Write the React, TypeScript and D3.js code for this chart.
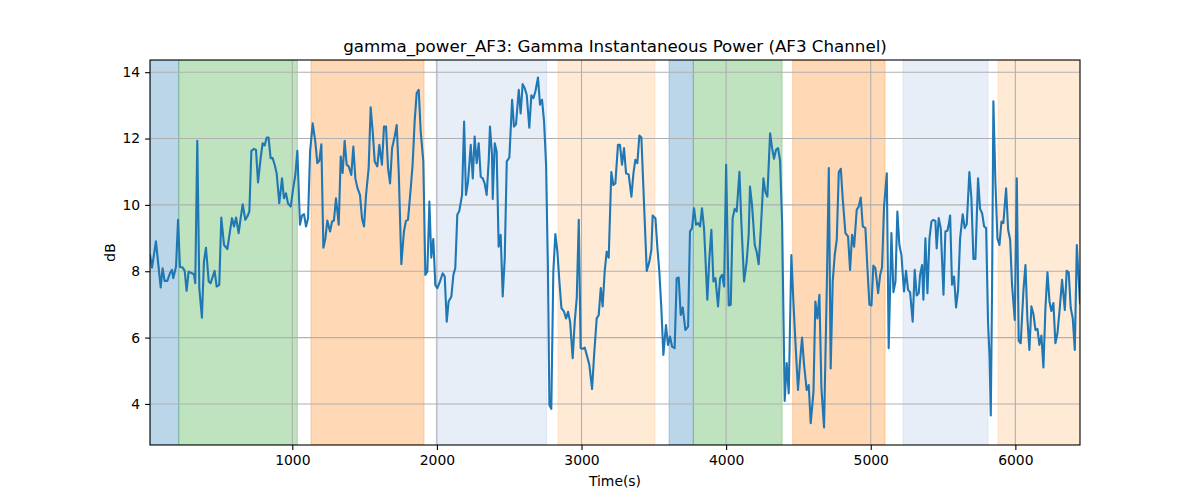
import * as d3 from "d3";
import React, { useRef, useEffect } from "react";

// [time (s), gamma power (dB)]
const gammaSamples: [number, number][] = [
  [16, 8.49], [30, 8.11], [57, 8.9], [90, 7.51], [103, 8.09], [117, 7.71], [136, 7.71], [154, 7.94], [168, 8.04], [177, 7.79],
  [196, 8.14], [210, 9.55], [223, 8.13], [242, 8.11], [256, 8.01], [269, 7.41], [283, 7.99], [306, 7.94], [320, 7.91], [329, 7.64],
  [343, 11.93], [357, 7.49], [375, 6.6], [389, 8.29], [403, 8.71], [422, 7.69], [435, 7.64], [454, 7.89], [463, 8.01], [477, 7.54],
  [495, 7.59], [509, 9.62], [528, 8.79], [551, 8.67], [569, 9.2], [583, 9.6], [597, 9.35], [611, 9.62], [629, 9.15], [643, 9.6],
  [657, 10.02], [675, 9.55], [689, 9.65], [703, 9.8], [717, 11.63], [735, 11.69], [749, 11.66], [763, 10.68], [781, 11.41], [795, 11.86],
  [809, 11.79], [823, 12.03], [836, 12.03], [850, 11.41], [864, 11.41], [878, 11.21], [892, 10.95], [910, 10.05], [929, 10.8], [942, 10.2],
  [956, 10.35], [970, 10.05], [989, 9.95], [1007, 10.52], [1021, 10.9], [1035, 11.63],
  [1053, 9.4], [1067, 9.68], [1081, 9.72], [1095, 9.35], [1109, 9.6], [1123, 11.61], [1141, 12.46], [1159, 11.91], [1173, 11.26], [1187, 11.33],
  [1201, 11.83], [1215, 8.71], [1229, 8.99], [1242, 9.53], [1261, 9.2], [1275, 9.5], [1288, 9.53], [1302, 10.2], [1312, 9.8], [1321, 9.4],
  [1335, 11.46], [1348, 10.96], [1362, 11.93], [1376, 11.21], [1390, 11.16], [1408, 10.9], [1422, 11.76], [1436, 10.8], [1450, 10.52], [1468, 10.3],
  [1482, 9.6], [1496, 9.35], [1510, 10.3], [1528, 11.11], [1542, 12.94], [1556, 12.21], [1570, 11.31], [1588, 11.16], [1602, 11.81], [1620, 11.21],
  [1634, 12.36], [1648, 12.36], [1662, 11.11], [1676, 10.65], [1690, 11.71], [1708, 12.06], [1722, 12.41], [1736, 11.0], [1754, 8.21], [1772, 9.2],
  [1786, 9.52], [1800, 9.55], [1819, 10.5], [1832, 11.21], [1846, 12.51], [1860, 13.37], [1874, 13.47], [1888, 12.21], [1906, 11.31], [1920, 7.89],
  [1934, 7.99], [1948, 10.1], [1961, 8.41], [1975, 8.97], [1989, 7.59], [2003, 7.49], [2021, 7.69], [2040, 7.94], [2054, 7.84], [2068, 6.48],
  [2081, 7.09], [2100, 7.24], [2114, 7.89], [2127, 8.09], [2141, 9.7], [2155, 9.82],
  [2174, 10.3], [2188, 12.51], [2201, 10.3], [2215, 10.7], [2234, 11.81], [2248, 10.8], [2261, 12.06], [2275, 11.26], [2289, 11.86], [2303, 10.85],
  [2317, 10.8], [2330, 10.65], [2344, 10.3], [2358, 11.31], [2367, 12.36], [2381, 11.51], [2386, 10.18], [2400, 11.86], [2413, 11.61], [2427, 8.74],
  [2441, 9.1], [2455, 7.24], [2469, 8.39], [2483, 11.31], [2501, 11.43], [2520, 13.17], [2533, 12.36], [2547, 12.43], [2566, 13.47], [2579, 12.76],
  [2593, 13.64], [2607, 13.52], [2621, 13.32], [2639, 12.33], [2653, 13.3], [2667, 13.22], [2681, 13.42], [2699, 13.84], [2713, 13.02], [2727, 13.17],
  [2741, 12.51], [2755, 11.21], [2768, 7.99], [2778, 3.97], [2791, 3.85], [2805, 7.99], [2819, 9.12], [2833, 8.59], [2847, 7.69], [2861, 6.89],
  [2879, 6.78], [2893, 6.58], [2907, 6.78], [2921, 6.48], [2939, 5.38], [2953, 6.48], [2967, 7.19], [2981, 9.55], [2994, 5.68], [3008, 5.66],
  [3022, 5.7], [3036, 5.48], [3054, 5.18], [3073, 4.45], [3087, 5.48], [3105, 6.58], [3119, 6.68], [3133, 7.49], [3146, 6.94], [3160, 7.99],
  [3174, 8.59], [3188, 8.41], [3206, 10.99], [3220, 10.6], [3234, 10.65], [3252, 11.81],
  [3266, 11.81], [3280, 11.21], [3294, 11.71], [3308, 10.95], [3326, 10.92], [3345, 10.25], [3359, 10.95], [3372, 11.36], [3386, 11.26], [3400, 12.09],
  [3414, 12.03], [3428, 10.5], [3451, 8.01], [3469, 8.29], [3483, 8.64], [3492, 9.68], [3511, 9.6], [3525, 8.69], [3538, 7.99], [3552, 6.89],
  [3566, 5.48], [3584, 6.38], [3598, 5.78], [3612, 6.03], [3626, 5.73], [3644, 5.68], [3658, 7.79], [3672, 7.81], [3686, 6.68], [3700, 6.91],
  [3718, 6.23], [3737, 6.33], [3750, 9.2], [3764, 9.3], [3778, 9.9], [3792, 9.4], [3806, 9.45], [3820, 9.35], [3833, 9.9], [3847, 9.3],
  [3856, 8.49], [3870, 7.14], [3884, 8.39], [3898, 9.25], [3912, 7.69], [3926, 7.79], [3944, 6.94], [3958, 7.79], [3972, 7.89], [3986, 7.54],
  [4000, 11.21], [4018, 6.97], [4032, 6.99], [4045, 9.6], [4059, 9.88], [4073, 9.8], [4092, 11.0], [4105, 9.5], [4124, 7.69], [4142, 8.29],
  [4156, 9.1], [4165, 10.55], [4179, 10.0], [4198, 8.79], [4211, 8.59], [4225, 8.21], [4239, 9.2], [4258, 10.8], [4271, 10.4], [4285, 10.25],
  [4304, 12.16], [4318, 11.71], [4331, 11.39], [4345, 11.66], [4359, 11.71], [4373, 11.33], [4387, 9.5],
  [4405, 4.09], [4419, 5.23], [4433, 4.32], [4451, 8.49], [4465, 7.09], [4479, 5.88], [4497, 4.42], [4511, 5.28], [4525, 6.0], [4539, 5.18],
  [4557, 4.42], [4571, 4.57], [4585, 3.42], [4604, 4.37], [4617, 7.09], [4631, 6.58], [4645, 7.29], [4659, 4.47], [4677, 3.29], [4696, 7.49],
  [4710, 11.11], [4723, 5.07], [4737, 7.69], [4751, 8.49], [4765, 8.95], [4779, 10.99], [4793, 11.09], [4806, 10.2], [4825, 9.15], [4843, 9.05],
  [4857, 8.04], [4871, 9.1], [4885, 8.74], [4903, 9.85], [4917, 9.95], [4931, 10.22], [4945, 9.35], [4963, 9.3], [4977, 8.09], [4991, 6.99],
  [5005, 6.97], [5018, 8.17], [5032, 8.09], [5051, 7.34], [5065, 7.89], [5078, 8.11], [5092, 9.95], [5111, 10.95], [5124, 5.68], [5143, 9.15],
  [5157, 7.37], [5171, 7.69], [5184, 9.8], [5198, 8.79], [5212, 8.49], [5230, 7.39], [5244, 8.01], [5258, 7.44], [5272, 7.37], [5290, 6.48],
  [5304, 8.04], [5318, 7.27], [5332, 7.34],
  [5341, 7.89], [5355, 8.19], [5364, 7.14], [5378, 8.99], [5392, 7.34], [5406, 8.99], [5420, 9.5], [5433, 9.55], [5447, 9.52], [5456, 8.69],
  [5470, 9.6], [5484, 9.3], [5503, 7.29], [5516, 9.2], [5530, 9.22], [5539, 9.4], [5549, 9.68], [5562, 7.59], [5576, 7.84], [5590, 6.91],
  [5604, 7.44], [5618, 8.99], [5636, 9.72], [5650, 9.3], [5664, 9.42], [5682, 10.99], [5696, 10.2], [5710, 8.37], [5724, 8.37], [5742, 10.8],
  [5756, 9.88], [5770, 9.75], [5784, 9.35], [5798, 9.3], [5811, 6.48], [5821, 5.48], [5830, 3.65], [5839, 7.49], [5848, 13.12], [5862, 10.7],
  [5876, 8.99], [5890, 8.79], [5904, 9.5], [5917, 9.45], [5936, 10.5], [5950, 9.25], [5964, 8.95], [5977, 7.59], [5996, 6.53], [6010, 10.8],
  [6023, 5.9], [6037, 5.83], [6056, 7.44], [6070, 8.19], [6083, 6.58], [6097, 5.63], [6111, 6.94], [6125, 6.71], [6139, 6.23], [6153, 6.26],
  [6166, 5.78], [6180, 6.06], [6194, 5.1], [6208, 6.89], [6222, 7.97], [6236, 7.09], [6249, 6.8], [6263, 7.04], [6277, 5.83], [6291, 6.13],
  [6305, 6.78], [6323, 7.74], [6342, 6.83], [6355, 8.01], [6369, 7.96], [6383, 6.89], [6397, 6.58], [6411, 5.63], [6425, 8.79], [6447, 7.04],
];

// shaded condition periods
const spanStart = [16, 215, 1129, 1994, 2837, 3605, 3773, 4460, 5223, 5880];
const spanEnd = [215, 1035, 1911, 2759, 3508, 3773, 4387, 5099, 5811, 6447];
const spanKind = ["blue", "green", "orange", "lightblue", "lightorange", "blue", "green", "orange", "lightblue", "lightorange"];

const xTicks = [1000, 2000, 3000, 4000, 5000, 6000];
const yTicks = [4, 6, 8, 10, 12, 14];

const kindColor: Record<string, string> = {
  blue: "#1f77b4",
  green: "#2ca02c",
  orange: "#ff7f0e",
  lightblue: "#aec7e8",
  lightorange: "#ffbb78",
};

function App() {
  const ref = useRef<SVGSVGElement>(null);
  const width = 1200;
  const height = 500;
  const margin = { top: 60, right: 120, bottom: 55, left: 150 };
  const chartWidth = width - margin.left - margin.right;
  const chartHeight = height - margin.top - margin.bottom;

  useEffect(() => {
    const svg = d3.select(ref.current);
    svg.selectAll("*").remove();

    const font = "DejaVu Sans, sans-serif";

    const xScale = d3
      .scaleLinear()
      .domain(d3.extent(gammaSamples, (d) => d[0]) as [number, number])
      .range([0, chartWidth]);

    const [yMin, yMax] = d3.extent(gammaSamples, (d) => d[1]) as [number, number];
    const pad = (yMax - yMin) * 0.05;
    const yScale = d3
      .scaleLinear()
      .domain([yMin - pad, yMax + pad])
      .range([chartHeight, 0]);

    const chart = svg
      .append("g")
      .attr("transform", `translate(${margin.left}, ${margin.top})`);

    chart
      .append("defs")
      .append("clipPath")
      .attr("id", "plot-clip")
      .append("rect")
      .attr("width", chartWidth)
      .attr("height", chartHeight);

    // spans
    chart
      .append("g")
      .attr("clip-path", "url(#plot-clip)")
      .selectAll("rect")
      .data(d3.range(spanStart.length))
      .enter()
      .append("rect")
      .attr("x", (i) => xScale(spanStart[i]))
      .attr("y", 0)
      .attr("width", (i) => xScale(spanEnd[i]) - xScale(spanStart[i]))
      .attr("height", chartHeight)
      .attr("fill", (i) => kindColor[spanKind[i]])
      .attr("fill-opacity", 0.3)
      .attr("stroke", (i) => kindColor[spanKind[i]])
      .attr("stroke-opacity", 0.3)
      .attr("stroke-width", 1);

    // grid
    const grid = chart.append("g").attr("stroke", "#b0b0b0").attr("stroke-width", 1.1);
    grid
      .selectAll("line.gx")
      .data(xTicks)
      .enter()
      .append("line")
      .attr("x1", (d) => xScale(d))
      .attr("x2", (d) => xScale(d))
      .attr("y1", 0)
      .attr("y2", chartHeight);
    grid
      .selectAll("line.gy")
      .data(yTicks)
      .enter()
      .append("line")
      .attr("x1", 0)
      .attr("x2", chartWidth)
      .attr("y1", (d) => yScale(d))
      .attr("y2", (d) => yScale(d));

    // line
    const line = d3
      .line<[number, number]>()
      .x((d) => xScale(d[0]))
      .y((d) => yScale(d[1]));

    chart
      .append("path")
      .datum(gammaSamples)
      .attr("clip-path", "url(#plot-clip)")
      .attr("fill", "none")
      .attr("stroke", "#1f77b4")
      .attr("stroke-width", 2.1)
      .attr("stroke-linejoin", "round")
      .attr("stroke-linecap", "square")
      .attr("d", line);

    // axes
    const xAxis = d3.axisBottom(xScale).tickValues(xTicks).tickSize(4.9).tickPadding(4.9).tickFormat(d3.format("d"));
    const yAxis = d3.axisLeft(yScale).tickValues(yTicks).tickSize(4.9).tickPadding(4.9).tickFormat(d3.format("d"));

    const gx = chart.append("g").attr("transform", `translate(0, ${chartHeight})`).call(xAxis);
    const gy = chart.append("g").call(yAxis);

    [gx, gy].forEach((g) => {
      g.select(".domain").remove();
      g.selectAll("line").attr("stroke", "#000").attr("stroke-width", 1.1);
      g.selectAll("text")
        .attr("fill", "#000")
        .style("font-family", font)
        .style("font-size", "13.9px");
    });

    chart
      .append("rect")
      .attr("width", chartWidth)
      .attr("height", chartHeight)
      .attr("fill", "none")
      .attr("stroke", "#000")
      .attr("stroke-width", 1.1);

    // labels
    svg
      .append("text")
      .attr("x", margin.left + chartWidth / 2)
      .attr("y", margin.top - 8.5)
      .attr("text-anchor", "middle")
      .style("font-family", font)
      .style("font-size", "16.7px")
      .text("gamma_power_AF3: Gamma Instantaneous Power (AF3 Channel)");

    svg
      .append("text")
      .attr("x", margin.left + chartWidth / 2)
      .attr("y", 486)
      .attr("text-anchor", "middle")
      .style("font-family", font)
      .style("font-size", "13.9px")
      .text("Time(s)");

    svg
      .append("text")
      .attr("transform", `translate(115, ${margin.top + chartHeight / 2}) rotate(-90)`)
      .attr("text-anchor", "middle")
      .style("font-family", font)
      .style("font-size", "13.9px")
      .text("dB");
  }, []);

  return (
    <div style={{ position: "absolute", left: 0, top: 0 }}>
      <svg ref={ref} width={width} height={height} style={{ display: "block", background: "#fff" }}></svg>
    </div>
  );
}

export default App;
